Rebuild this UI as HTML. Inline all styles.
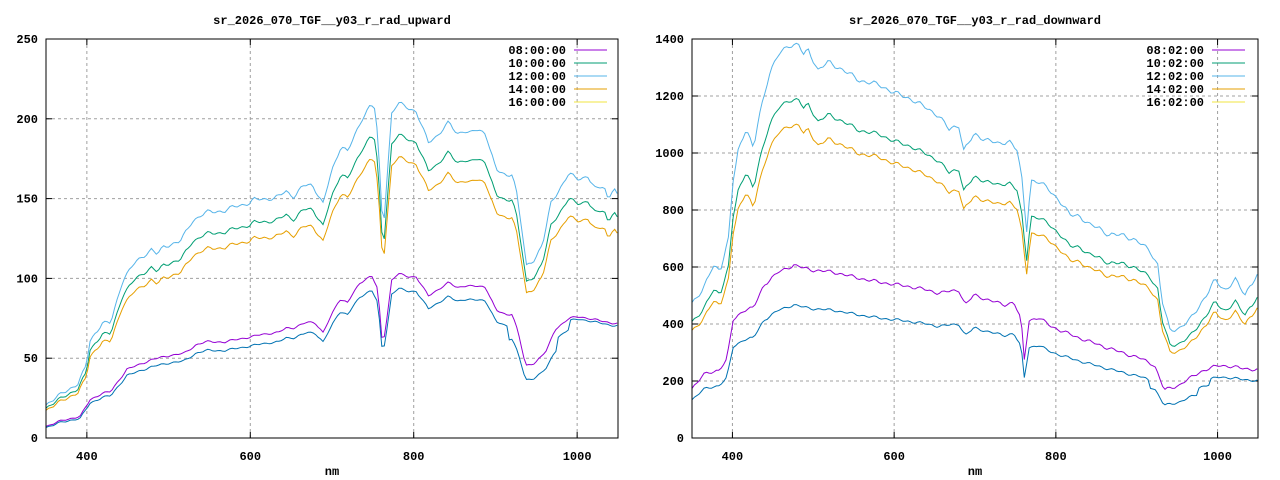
<!DOCTYPE html>
<html><head><meta charset="utf-8"><style>
html,body{margin:0;padding:0;background:#fff}
svg{display:block}
text{font-family:"Liberation Mono",monospace;font-size:12px;font-weight:bold;fill:#000}
</style></head><body>
<svg id="s" width="1280" height="480" viewBox="0 0 1280 480"></svg>
<script>
const S=document.getElementById('s');let h='';
function interp(pts,x){for(let i=0;i<pts.length-1;i++){if(x>=pts[i][0]&&x<=pts[i+1][0]){const t=(x-pts[i][0])/(pts[i+1][0]-pts[i][0]);return pts[i][1]+t*(pts[i+1][1]-pts[i][1]);}}return pts[pts.length-1][1];}
function plot(cfg){
 const {x0,x1,y0,y1,ymax,ystep,title,legend,series}=cfg;
 const X=v=>x0+(v-350)/700*(x1-x0), Y=v=>y1-v/ymax*(y1-y0);
 h+=`<text x="${(x0+x1)/2}" y="24" text-anchor="middle">${title}</text>`;
 for(let v=ystep;v<ymax;v+=ystep){h+=`<line x1="${x0}" x2="${x1}" y1="${Y(v)}" y2="${Y(v)}" stroke="#a0a0a0" stroke-dasharray="3,3" stroke-width="1"/>`;}
 for(let v=400;v<=1000;v+=200){h+=`<line x1="${X(v)}" x2="${X(v)}" y1="${y0}" y2="${y1}" stroke="#a0a0a0" stroke-dasharray="3,3" stroke-width="1"/>`;}
 for(let v=0;v<=ymax;v+=ystep){const y=Y(v);h+=`<line x1="${x0}" x2="${x0+6}" y1="${y}" y2="${y}" stroke="#000"/><line x1="${x1-6}" x2="${x1}" y1="${y}" y2="${y}" stroke="#000"/><text x="${x0-8}" y="${y+4}" text-anchor="end">${v}</text>`;}
 for(let v=400;v<=1000;v+=200){const x=X(v);h+=`<line x1="${x}" x2="${x}" y1="${y1}" y2="${y1-6}" stroke="#000"/><line x1="${x}" x2="${x}" y1="${y0}" y2="${y0+6}" stroke="#000"/><text x="${x}" y="${y1+22}" text-anchor="middle">${v}</text>`;}
 h+=`<text x="${(x0+x1)/2}" y="${y1+37}" text-anchor="middle">nm</text>`;
 for(const s of series){let d='';for(let v=350;v<=1050;v+=3){const n=Math.sin(v*0.45)*s.j+Math.sin(v*0.21)*s.j*0.7;let val=interp(s.p,v)*s.k(v)+n;d+=(d?'L':'M')+X(v).toFixed(1)+','+Y(val).toFixed(1);}
 h+=`<path d="${d}" fill="none" stroke="${s.c}" stroke-width="1"/>`;}
 const cols=['#9400d3','#009e73','#56b4e9','#e69f00','#f0e442'];
 legend.forEach((t,i)=>{const y=50+i*13;h+=`<text x="${cfg.lx}" y="${y+4}" text-anchor="end">${t}</text><line x1="${cfg.lx+8}" x2="${cfg.lx+41}" y1="${y}" y2="${y}" stroke="${cols[i]}"/>`;});
 h+=`<rect x="${x0}" y="${y0}" width="${x1-x0}" height="${y1-y0}" fill="none" stroke="#000" stroke-width="1"/>`;
}
const upTop=[[350,20.9],[370,28],[389,34],[399,45],[404,61],[419,72],[429,72],[444,99],[459,110],[479,118],[486,115],[494,120],[514,123],[529,136],[549,142],[569,142],[579,145],[599,147],[605,149.5],[629,150],[644,154.5],[654,151],[664,158],[676,158.5],[689,147],[699,166],[711,183],[719,180],[726,187],[736,199],[747.5,209.5],[753.5,205.7],[758.5,166],[762.5,128],[767.5,164],[773,203.5],[781,210],[793,206.7],[803,204.6],[818,185],[828,189],[843,198],[853,190],[861,193],[868,191],[876,193],[888,191],[901,168],[913,164],[920.5,166],[925.5,155.5],[933,128],[938,107.5],[948,112],[958,122],[968,147],[978,155.5],[990,166],[1000,162],[1013,164],[1023,155.5],[1033,158],[1038,149],[1045,158],[1050,151]];
const upLow=[[350,7.3],[370,11],[392,13.6],[404,24],[419,28],[429,29],[449,43],[464,46],[479,49],[499,51.5],[519,53],[534,58.5],[549,60.5],[569,60],[584,62],[599,63],[614,65],[634,66],[644,69],[654,69],[669,72.5],[679,72.5],[689,66],[709,87],[719,85],[734,97],[748.5,102],[756,93],[762,57],[767.5,76],[773,99],[781,103],[793,101],[803,101],[818,89],[843,97.5],[853,94],[861,95.5],[888,94.6],[901,80],[913,77],[920.5,78],[928,66],[937,45],[948,47],[963,55],[973,68],[990,75],[1003,76],[1023,74],[1043,72],[1050,71.6]];
const dnTop=[[350,477],[364,519],[376,607],[385,590],[395,695],[401,905],[407,1010],[417,1088],[426,1010],[432,1116],[445,1274],[457,1344],[469,1379],[482,1379],[488,1344],[494,1361],[506,1291],[519,1319],[537,1291],[556,1256],[581,1239],[606,1204],[624,1186],[643,1151],[655,1133],[668,1081],[680,1098],[686,1010],[699,1063],[717,1046],[730,1028],[742,1046],[752,1010],[760,870],[763,695],[769,905],[779,898],[792,870],[804,835],[817,782],[829,782],[841,747],[854,737],[866,712],[885,712],[897,695],[916,660],[926,607],[931,484],[941,379],[953,386],[966,414],[978,467],[990,519],[997,554],[1009,519],[1022,554],[1034,502],[1040,537],[1050,572]];
const dnLow=[[350,175],[364,221],[383,239],[393,274],[401,414],[414,449],[426,456],[439,537],[457,582],[476,607],[488,596],[500,589],[525,582],[556,561],[581,547],[606,537],[630,526],[655,509],[680,519],[688,467],[699,502],[717,484],[736,467],[748,477],[757,414],[761,274],[767,414],[779,421],[792,396],[804,379],[829,351],[854,326],[879,302],[903,281],[922,256],[934,168],[953,186],[978,232],[1003,256],[1027,246],[1050,239]];
const one=v=>1;
plot({x0:46,x1:618,y0:39,y1:438,ymax:250,ystep:50,lx:566,title:'sr_2026_070_TGF__y03_r_rad_upward',
 legend:['08:00:00','10:00:00','12:00:00','14:00:00','16:00:00'],
 series:[
  {p:upTop,c:'#56b4e9',k:one,j:0.8},
  {p:upTop,c:'#009e73',k:v=>0.905,j:0.7},
  {p:upTop,c:'#e69f00',k:v=>0.838,j:0.7},
  {p:upLow,c:'#9400d3',k:one,j:0.4},
  {p:upLow,c:'#0072b2',k:v=>(v>915&&v<975)?0.8:(v>990?0.98:0.91),j:0.4}]});
plot({x0:692,x1:1258,y0:39,y1:438,ymax:1400,ystep:200,lx:1204,title:'sr_2026_070_TGF__y03_r_rad_downward',
 legend:['08:02:00','10:02:00','12:02:00','14:02:00','16:02:00'],
 series:[
  {p:dnTop,c:'#56b4e9',k:one,j:6},
  {p:dnTop,c:'#009e73',k:v=>0.86,j:5},
  {p:dnTop,c:'#e69f00',k:v=>0.795,j:5},
  {p:dnLow,c:'#9400d3',k:one,j:4},
  {p:dnLow,c:'#0072b2',k:v=>(v>915&&v<975)?0.68:(v>990?0.84:0.77),j:3}]});
S.innerHTML=h;
</script>
</body></html>
